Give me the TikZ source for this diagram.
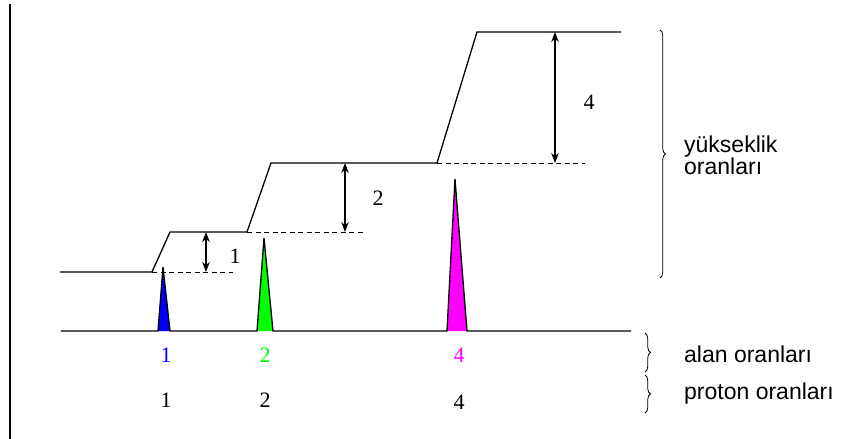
\documentclass[tikz,border=0pt]{standalone}
\usepackage{fontspec}
\setmainfont{Liberation Serif}
\newfontfamily\lsans{Liberation Sans}
\usetikzlibrary{arrows.meta,decorations.pathreplacing}
\definecolor{pkblue}{RGB}{0,0,255}
\definecolor{pkgreen}{RGB}{0,255,0}
\definecolor{pkmag}{RGB}{255,0,255}
\begin{document}
\begin{tikzpicture}[x=1pt,y=-1pt,
  curve/.style={line width=1.3pt, line join=miter},
  guide/.style={line width=1pt, dash pattern=on 5pt off 3.5pt},
  dim/.style={line width=1.1pt, {Stealth[length=10pt,width=7.5pt]}-{Stealth[length=10pt,width=7.5pt]}},
  num/.style={font=\fontsize{22}{24}\selectfont, inner sep=0pt},
  lab/.style={font=\lsans\fontsize{23}{20}\selectfont, anchor=base west, inner sep=0pt},
  brace/.style={decorate, decoration={brace, amplitude=5.5pt}, line width=0.8pt}
]
\useasboundingbox (0,0) rectangle (844,439);
% left rule
\coordinate (vt) at (10,4);
\coordinate (vb) at (10,439);
\draw[line width=2.2pt] (vt) -- (vb);
% integral curve
\coordinate (i0) at (60,272);
\coordinate (i1) at (152,272);
\coordinate (i2) at (170,232);
\coordinate (i3) at (247,232);
\coordinate (i4) at (271,163);
\coordinate (i5) at (437,163);
\coordinate (i6) at (477,32);
\coordinate (i7) at (621,32);
\draw[curve] (i0) -- (i1) -- (i2) -- (i3) -- (i4) -- (i5) -- (i6) -- (i7);
% dashed guides
\coordinate (d1) at (233,272);
\coordinate (d2) at (365,232);
\coordinate (d3) at (585,163);
\draw[guide] (i1) -- (d1);
\draw[guide] (i3) -- (d2);
\draw[guide] (i5) -- (d3);
% dimension arrows
\coordinate (a1t) at (206,232);
\coordinate (a1b) at (206,272);
\coordinate (a2t) at (345,163);
\coordinate (a2b) at (345,232);
\coordinate (a3t) at (555,32);
\coordinate (a3b) at (555,163);
\draw[dim] (a1t) -- (a1b);
\draw[dim] (a2t) -- (a2b);
\draw[dim] (a3t) -- (a3b);
\node[num] (h1) at (235,256) {1};
\node[num] (h2) at (378,198) {2};
\node[num] (h4) at (589,102) {4};
% spectrum
\coordinate (b0) at (61,331);
\coordinate (p1l) at (158,331);
\coordinate (p1t) at (163,267);
\coordinate (p1r) at (170,331);
\coordinate (p2l) at (257,331);
\coordinate (p2t) at (264,238);
\coordinate (p2r) at (273,331);
\coordinate (p3l) at (447,331);
\coordinate (p3t) at (455,179);
\coordinate (p3r) at (467,331);
\coordinate (b1) at (631,331);
\fill[pkblue] (p1l) -- (p1t) -- (p1r) -- cycle;
\fill[pkgreen] (p2l) -- (p2t) -- (p2r) -- cycle;
\fill[pkmag] (p3l) -- (p3t) -- (p3r) -- cycle;
\draw[curve] (b0) -- (p1l) -- (p1t) -- (p1r) -- (p2l) -- (p2t) -- (p2r) -- (p3l) -- (p3t) -- (p3r) -- (b1);
% ratio numbers
\node[num, text=pkblue] (c1) at (166,355) {1};
\node[num, text=pkgreen] (c2) at (265,355) {2};
\node[num, text=pkmag] (c4) at (459,355) {4};
\node[num] (k1) at (166,400) {1};
\node[num] (k2) at (265,400) {2};
\node[num] (k4) at (459,402) {4};
% braces
\coordinate (br1t) at (660,30);
\coordinate (br1b) at (660,278);
\coordinate (br2t) at (645,333);
\coordinate (br2b) at (645,372);
\coordinate (br3t) at (645,375);
\coordinate (br3b) at (645,413);
\draw[brace] (br1t) -- (br1b);
\draw[brace] (br2t) -- (br2b);
\draw[brace] (br3t) -- (br3b);
\node[lab] (t1a) at (684,152) {yükseklik};
\node[lab] (t1b) at (684,174) {oranları};
\node[lab] (t2) at (684,362) {alan oranları};
\node[lab] (t3) at (684,399) {proton oranları};
\end{tikzpicture}
\end{document}
